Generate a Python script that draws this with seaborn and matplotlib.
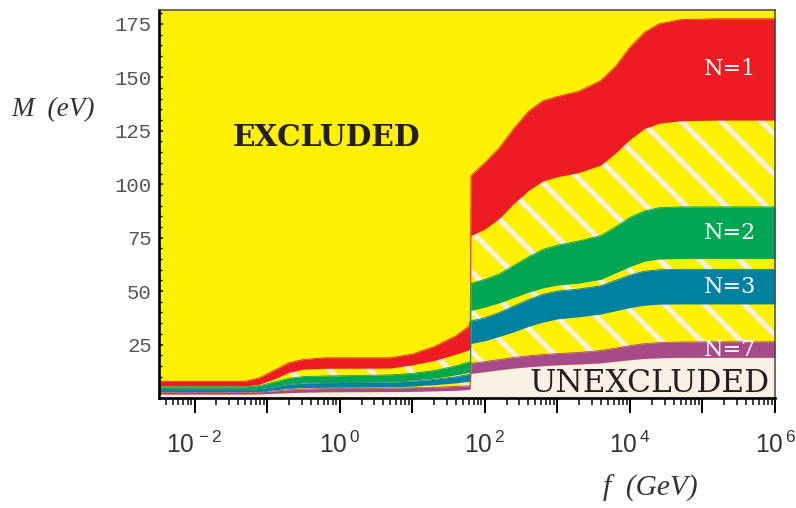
import numpy as np
import pandas as pd
import matplotlib
matplotlib.use("Agg")
import matplotlib.pyplot as plt
from matplotlib.ticker import LogLocator, FuncFormatter, MultipleLocator, NullFormatter
import seaborn as sns

# x positions, log10 of f in GeV
log_f = [-2.49, -1.3, -1.1, -0.9, -0.7, -0.5, -0.2, 0.7, 1.0, 1.3, 1.6, 1.78, 1.80,
         1.81, 2.0, 2.2, 2.4, 2.6, 2.8, 3.0, 3.3, 3.6, 3.8, 4.0, 4.2, 4.4, 4.7, 5.2, 6.0]

# band limits on M (eV)
n1_hi = [7.8, 7.8, 9.5, 13.0, 16.5, 18.0, 18.8, 18.8, 20.5, 24.0, 29.0, 33.5, 36.0,
         104.0, 110.0, 117.0, 126.0, 134.0, 139.0, 141.0, 143.5, 148.5, 155.0, 164.0, 171.0, 175.0, 177.0, 177.4, 177.4]
n1_lo = [5.6, 5.6, 6.5, 9.0, 12.0, 13.5, 13.9, 14.0, 15.5, 17.5, 20.5, 22.5, 23.0,
         76.0, 79.0, 84.0, 91.0, 97.0, 101.5, 103.5, 105.5, 109.0, 114.5, 121.0, 126.0, 128.5, 129.7, 130.0, 130.0]
n2_hi = [5.2, 5.2, 5.8, 7.5, 9.2, 10.0, 10.3, 10.8, 11.5, 12.8, 15.0, 16.8, 17.0,
         53.6, 55.5, 58.0, 62.0, 66.0, 69.5, 71.5, 73.5, 76.0, 80.0, 84.5, 87.5, 89.0, 89.4, 89.4, 89.4]
n2_lo = [4.2, 4.2, 4.6, 5.6, 6.8, 7.4, 7.6, 7.8, 8.4, 9.3, 10.8, 12.0, 12.3,
         41.0, 42.5, 44.5, 47.0, 49.5, 51.5, 52.8, 53.8, 55.5, 58.5, 61.5, 64.0, 65.0, 65.3, 65.3, 65.3]
n3_hi = [4.1, 4.1, 4.4, 5.3, 6.4, 7.0, 7.2, 7.4, 7.9, 8.7, 9.9, 11.0, 11.2,
         36.0, 37.5, 40.0, 43.0, 46.0, 48.5, 50.0, 51.0, 52.5, 55.0, 57.5, 59.3, 60.0, 60.2, 60.2, 60.2]
n3_lo = [2.9, 2.9, 3.1, 3.8, 4.5, 4.9, 5.0, 5.2, 5.6, 6.2, 7.1, 7.8, 8.0,
         25.5, 26.8, 28.8, 31.0, 33.5, 35.5, 37.0, 38.0, 39.3, 40.8, 42.3, 43.4, 43.9, 44.0, 44.0, 44.0]
n7_hi = [2.7, 2.7, 2.9, 3.3, 3.8, 4.2, 4.4, 4.6, 4.8, 5.0, 5.4, 5.7, 5.8,
         16.2, 17.0, 18.0, 19.0, 19.7, 20.3, 20.8, 21.3, 22.2, 23.3, 24.5, 25.4, 25.9, 26.2, 26.3, 26.3]
n7_lo = [1.8, 1.8, 1.9, 2.2, 2.5, 2.7, 2.9, 3.0, 3.1, 3.3, 3.6, 4.0, 4.2,
         11.5, 12.3, 13.2, 14.0, 14.6, 15.1, 15.5, 15.9, 16.4, 17.2, 17.9, 18.5, 18.8, 19.0, 19.0, 19.0]

band_names = ["N=1", "N=2", "N=3", "N=7"]
band_lo = [n1_lo, n2_lo, n3_lo, n7_lo]
band_hi = [n1_hi, n2_hi, n3_hi, n7_hi]
label_y = [154, 77, 52, 22.4]

YELLOW = "#FFF100"
BEIGE = "#FAF0E4"
colors = {"N=1": "#ED1C24", "N=2": "#00A651", "N=3": "#0081A2", "N=7": "#A64A8A"}

sns.set_theme(style="ticks")
plt.rcParams["hatch.linewidth"] = 1.5
plt.rcParams["hatch.color"] = BEIGE
plt.rcParams["mathtext.fontset"] = "custom"
plt.rcParams["mathtext.rm"] = "Liberation Sans"
plt.rcParams["mathtext.it"] = "Liberation Sans:italic"

DPI = 240
fig = plt.figure(figsize=(796 / DPI, 508 / DPI), dpi=DPI)
ax = fig.add_axes([159 / 796, 1 - 398 / 508, 616 / 796, 388 / 508])
ax.set_xscale("log")
ax.set_xlim(10 ** -2.49, 1e6)
ax.set_ylim(0, 181.5)
ax.set_facecolor(YELLOW)

f = 10 ** np.array(log_f)

# hatched region below the N=1 band, then the unexcluded floor
ax.fill_between(f, 0, n1_lo, facecolor=YELLOW, edgecolor=BEIGE, hatch="\\\\", lw=0)
ax.fill_between(f, 0, n7_lo, color=BEIGE, lw=0)

for name, lo, hi in zip(band_names, band_lo, band_hi):
    ax.fill_between(f, lo, hi, color=colors[name], lw=0)

edges = pd.concat([pd.DataFrame({"f": f, "M": hi, "band": name})
                   for name, hi in zip(band_names, band_hi)])
sns.lineplot(data=edges, x="f", y="M", hue="band", palette=colors, estimator=None,
             sort=False, legend=False, lw=0.25, ax=ax)

for name, y in zip(band_names, label_y):
    ax.text(10 ** 5.74, y, name, ha="right", va="center", color="white",
            family="DejaVu Serif", size=6.7)

ax.text(10 ** -0.18, 122, "EXCLUDED", ha="center", va="center", color="#231F20",
        family="DejaVu Serif", weight="bold", size=8.9)
ax.text(10 ** 5.93, 7.0, "UNEXCLUDED", ha="right", va="center", color="#231F20",
        family="DejaVu Serif", size=9.4)

# axes cosmetics
ax.xaxis.set_major_locator(LogLocator(base=10, numticks=20))
ax.xaxis.set_minor_locator(LogLocator(base=10, subs=np.arange(2, 10), numticks=20))
ax.xaxis.set_minor_formatter(NullFormatter())


def dec_label(v, pos):
    e = int(round(np.log10(v)))
    return r"$\mathrm{10^{\,%d}}$" % e if e % 2 == 0 else ""


ax.xaxis.set_major_formatter(FuncFormatter(dec_label))
ax.set_yticks(range(25, 176, 25))
ax.yaxis.set_minor_locator(MultipleLocator(5))

ax.tick_params(axis="x", which="major", direction="out", length=4.5, width=0.6,
               pad=5.5, labelsize=7.4, color="black", labelcolor="#333333")
ax.tick_params(axis="x", which="minor", direction="out", length=2.0, width=0.45, color="black")
ax.tick_params(axis="y", which="major", direction="in", length=1.3, width=0.45,
               pad=2.1, labelsize=6.2, color="black", labelcolor="#555555")
ax.tick_params(axis="y", which="minor", direction="in", length=0.9, width=0.4, color="black")
for lab in ax.get_yticklabels():
    lab.set_family("Liberation Mono")

for side in ["left", "bottom"]:
    ax.spines[side].set_linewidth(0.8)
    ax.spines[side].set_color("black")
for side in ["top", "right"]:
    ax.spines[side].set_linewidth(0.45)
    ax.spines[side].set_color("#444444")

ax.set_ylabel("M  (eV)", rotation=0, family="Liberation Serif", style="italic",
              size=8.2, color="#333333", ha="center", va="center")
ax.yaxis.set_label_coords(-0.172, 0.742)
ax.set_xlabel("f  (GeV)", family="Liberation Serif", style="italic",
              size=8.8, color="#333333", ha="center", va="center")
ax.xaxis.set_label_coords(0.797, -0.232)

fig.savefig("out.png", dpi=DPI)
